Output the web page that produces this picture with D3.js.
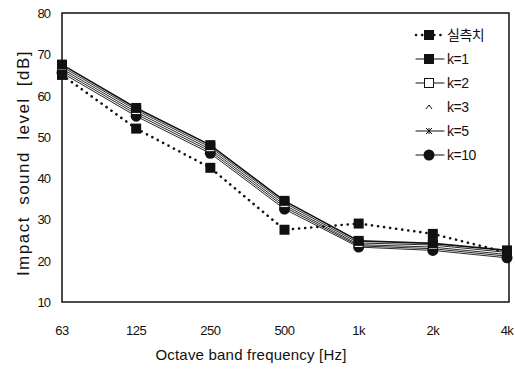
<!DOCTYPE html>
<html>
<head>
<meta charset="utf-8">
<script src="https://cdn.jsdelivr.net/npm/d3@7"></script>
<style>
  body { margin: 0; background: #fff; }
  text { font-family: "Liberation Sans", Arial, "Noto Sans CJK KR", sans-serif; fill: #111; }
</style>
</head>
<body>
<div id="chart"></div>
<script>
// data
var bands = ["63", "125", "250", "500", "1k", "2k", "4k"];
var yTicks = [10, 20, 30, 40, 50, 60, 70, 80];
var measured = [65, 52, 42.5, 27.5, 29, 26.5, 22];
var k1 = [67.5, 57, 48, 34.5, 24.8, 24.2, 22.5];
var k2 = [67, 56.5, 47.5, 34, 24.3, 23.8, 22];
var k3 = [66.5, 56, 47, 33.5, 23.9, 23.3, 21.5];
var k5 = [66, 55.5, 46.5, 33, 23.6, 22.9, 21.1];
var k10 = [65.5, 55, 46, 32.5, 23.3, 22.5, 20.7];

var seriesNames = ["실측치", "k=1", "k=2", "k=3", "k=5", "k=10"];
var seriesData = [measured, k1, k2, k3, k5, k10];
var markers = ["square", "square", "openSquare", "caret", "cross", "circle"];

var width = 515, height = 369;
var svg = d3.select("#chart").append("svg").attr("width", width).attr("height", height);

var x = d3.scalePoint().domain(bands).range([62, 507]);
var y = d3.scaleLinear().domain([10, 80]).range([302, 13]);

// frame
svg.append("rect")
  .attr("x", 62).attr("y", 13)
  .attr("width", 447).attr("height", 289)
  .attr("fill", "none").attr("stroke", "#111").attr("stroke-width", 1.5);

// y tick labels
svg.selectAll(".ylab").data(yTicks).enter().append("text")
  .attr("class", "ylab")
  .attr("x", 50).attr("y", function(d) { return y(d) + 5; })
  .attr("text-anchor", "end").attr("font-size", "13px")
  .attr("letter-spacing", "-1px")
  .text(function(d) { return d; });

// x tick labels
svg.selectAll(".xlab").data(bands).enter().append("text")
  .attr("class", "xlab")
  .attr("x", function(d) { return x(d); }).attr("y", 335)
  .attr("text-anchor", "middle").attr("font-size", "13px")
  .attr("letter-spacing", "-0.5px")
  .text(function(d) { return d; });

// axis titles
svg.append("text")
  .attr("x", 251).attr("y", 360)
  .attr("text-anchor", "middle").attr("font-size", "15px")
  .attr("letter-spacing", "0.2px")
  .text("Octave band frequency [Hz]");

svg.append("text")
  .attr("transform", "translate(29,163) rotate(-90)")
  .attr("text-anchor", "middle").attr("font-size", "17px")
  .attr("letter-spacing", "1.5px").attr("word-spacing", "5px")
  .text("Impact sound level [dB]");

var line = d3.line()
  .x(function(d, i) { return x(bands[i]); })
  .y(function(d) { return y(d); });

function drawMarker(g, type, cx, cy) {
  if (type === "square") {
    g.append("rect").attr("x", cx - 5).attr("y", cy - 5).attr("width", 10).attr("height", 10).attr("fill", "#111");
  } else if (type === "openSquare") {
    g.append("rect").attr("x", cx - 4.5).attr("y", cy - 4.5).attr("width", 9).attr("height", 9)
      .attr("fill", "#fff").attr("stroke", "#111").attr("stroke-width", 1);
  } else if (type === "caret") {
    g.append("path").attr("d", "M" + (cx - 3) + "," + (cy + 2) + "L" + cx + "," + (cy - 2) + "L" + (cx + 3) + "," + (cy + 2))
      .attr("fill", "none").attr("stroke", "#111").attr("stroke-width", 1);
  } else if (type === "cross") {
    g.append("path").attr("d", "M" + (cx - 3) + "," + (cy - 3) + "L" + (cx + 3) + "," + (cy + 3) + "M" + (cx + 3) + "," + (cy - 3) + "L" + (cx - 3) + "," + (cy + 3) + "M" + cx + "," + (cy - 3) + "L" + cx + "," + (cy + 3))
      .attr("fill", "none").attr("stroke", "#111").attr("stroke-width", 1);
  } else if (type === "circle") {
    g.append("circle").attr("cx", cx).attr("cy", cy).attr("r", 5.5).attr("fill", "#111");
  }
}

// lines, draw k=10 first so the top ones sit over
for (var s = seriesData.length - 1; s >= 0; s--) {
  svg.append("path")
    .datum(seriesData[s])
    .attr("d", line)
    .attr("fill", "none")
    .attr("stroke", "#111")
    .attr("stroke-width", s === 0 ? 2.6 : (s === 1 ? 1.6 : 0.9))
    .attr("stroke-dasharray", s === 0 ? "0.1,6" : null)
    .attr("stroke-linecap", "round");
}

// markers
var markG = svg.append("g");
for (var s = seriesData.length - 1; s >= 0; s--) {
  seriesData[s].forEach(function(v, i) {
    drawMarker(markG, markers[s], x(bands[i]), y(v));
  });
}

// legend
var leg = svg.append("g");
seriesNames.forEach(function(name, i) {
  var ly = 35 + i * 24;
  var row = leg.append("g");
  row.append("line")
    .attr("x1", 416).attr("x2", 444).attr("y1", ly).attr("y2", ly)
    .attr("stroke", "#111")
    .attr("stroke-width", i === 0 ? 2.6 : 1.2)
    .attr("stroke-dasharray", i === 0 ? "0.1,6" : null)
    .attr("stroke-linecap", "round")
    .attr("opacity", i === 3 ? 0 : 1);
  drawMarker(row, markers[i], 429, ly);
  row.append("text")
    .attr("x", 447).attr("y", ly + 5)
    .attr("font-size", "14px")
    .attr("letter-spacing", "-0.5px")
    .text(name);
});
</script>
</body>
</html>
